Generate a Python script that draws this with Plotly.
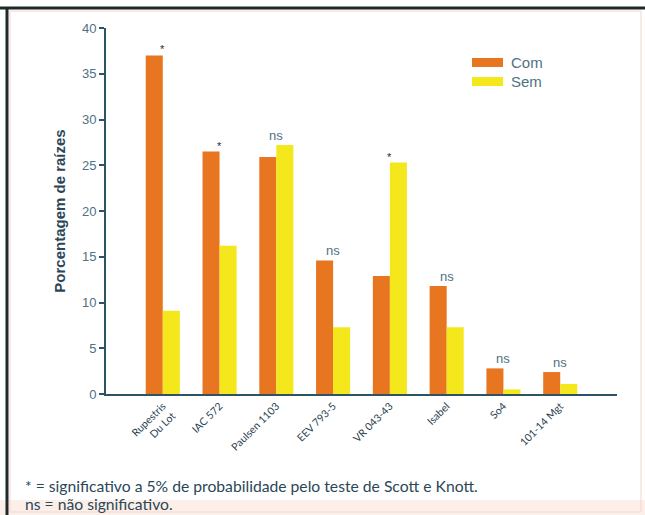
import plotly.graph_objects as go

# Rootstock cultivars and root percentages with (Com) and without (Sem) treatment
cultivares = ["Rupestris<br>Du Lot", "IAC 572", "Paulsen 1103", "EEV 793-5",
              "VR 043-43", "Isabel", "So4", "101-14 Mgt"]
com = [37.0, 26.5, 25.9, 14.6, 12.9, 11.8, 2.8, 2.4]
sem = [9.1, 16.2, 27.2, 7.3, 25.3, 7.3, 0.5, 1.1]
signif = ["*", "*", "ns", "ns", "*", "ns", "ns", "ns"]
y_ticks = [0, 5, 10, 15, 20, 25, 30, 35, 40]
series_names = ["Com", "Sem"]

ORANGE = "#E8751F"
YELLOW = "#F4E71C"
AXIS = "#2F5366"
TICKTXT = "#4F7184"
TEXT = "#2B4657"

# Plot-area geometry in pixels (used to place frame and legend in paper units)
W, H = 645, 515
L, R, T, B = 106, 28, 28, 121
PW, PH = W - L - R, H - T - B


def px(x):
    return (x - L) / PW


def py(y):
    return (H - B - y) / PH


fig = go.Figure()
fig.add_trace(go.Bar(x=cultivares, y=com, name=series_names[0], marker_color=ORANGE,
                     marker_line_width=0))
fig.add_trace(go.Bar(x=cultivares, y=sem, name=series_names[1], marker_color=YELLOW,
                     marker_line_width=0))

# Significance marks above each cultivar
for cat, a, b, s in zip(cultivares, com, sem, signif):
    fig.add_annotation(
        x=cat, y=max(a, b), text=s, showarrow=False, yanchor="bottom",
        yshift=0 if s == "ns" else -2,
        font=dict(family="Liberation Sans, Arial, sans-serif",
                  size=13 if s == "ns" else 11,
                  color=TICKTXT if s == "ns" else "#1d2f3a"),
    )

# Legend with wide colour swatches
for i, (name, col) in enumerate(zip(series_names, [ORANGE, YELLOW])):
    yc = 62.5 + 19 * i
    fig.add_shape(type="rect", xref="paper", yref="paper",
                  x0=px(472), x1=px(503), y0=py(yc - 4.5), y1=py(yc + 4.5),
                  fillcolor=col, line_width=0)
    fig.add_annotation(xref="paper", yref="paper", x=px(509), y=py(yc),
                       xanchor="left", yanchor="middle", text=name, showarrow=False,
                       font=dict(family="Liberation Sans, Arial, sans-serif",
                                 size=15, color=TICKTXT))

# Footnotes
foot_font = dict(family="Lato, sans-serif", size=15.7, color=TEXT)
fig.add_annotation(
    xref="paper", yref="paper", x=px(23), y=py(486), xanchor="left", yanchor="middle",
    text="* = significativo a 5% de probabilidade pelo teste de Scott e Knott.",
    showarrow=False, font=foot_font,
)
fig.add_annotation(
    xref="paper", yref="paper", x=px(23), y=py(504), xanchor="left", yanchor="middle",
    text="ns = não significativo.", showarrow=False, font=foot_font,
)

# Outer frame: dark top/left edges, faint inner border and bottom band
fig.add_shape(type="rect", xref="paper", yref="paper", layer="below",
              x0=px(0), x1=px(645), y0=py(500), y1=py(515),
              fillcolor="#FCEFE9", line_width=0)
fig.add_shape(type="rect", xref="paper", yref="paper", layer="below",
              x0=px(10), x1=px(641), y0=py(512), y1=py(11),
              line=dict(color="#F5D5CA", width=1))
fig.add_shape(type="line", xref="paper", yref="paper",
              x0=px(0), x1=px(645), y0=py(8), y1=py(8),
              line=dict(color="#1E2A2A", width=3))
fig.add_shape(type="line", xref="paper", yref="paper",
              x0=px(7), x1=px(7), y0=py(7), y1=py(515),
              line=dict(color="#1E2A2A", width=3))

fig.update_layout(
    width=W, height=H,
    margin=dict(l=L, r=R, t=T, b=B, pad=0),
    paper_bgcolor="white", plot_bgcolor="white",
    barmode="group", bargap=0.4, bargroupgap=0,
    showlegend=False,
    xaxis=dict(
        range=[-1, 8], showline=True, linecolor=AXIS, linewidth=2,
        ticks="", tickangle=-45, showgrid=False, zeroline=False,
        tickfont=dict(family="Lato, sans-serif", size=10.5, color="#2A4150"),
    ),
    yaxis=dict(
        range=[0, 40], tickvals=y_ticks, showline=True, linecolor=AXIS, linewidth=2,
        ticks="outside", ticklen=5, tickwidth=1.5, tickcolor=AXIS,
        showgrid=False, zeroline=False,
        tickfont=dict(family="Liberation Sans Narrow, Liberation Sans, Arial, sans-serif",
                      size=13, color=TICKTXT),
        title=dict(text="<b>Porcentagem de raízes</b>", standoff=13,
                   font=dict(family="Liberation Sans, Arial, sans-serif", size=15, color=TEXT)),
    ),
)

fig.write_html("out.html")
